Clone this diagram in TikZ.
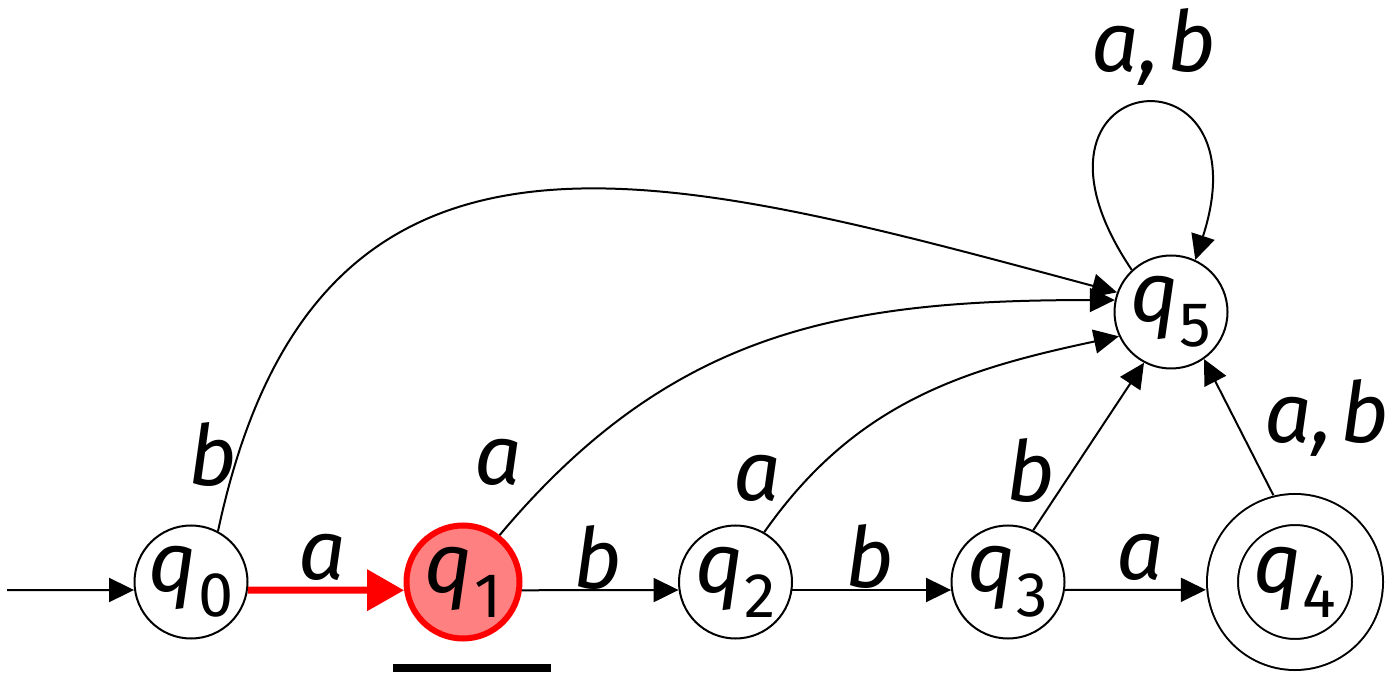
\documentclass[tikz,border=0pt]{standalone}
\usepackage{fontspec}
\setmainfont{Fira Sans}
\usetikzlibrary{arrows.meta}
\definecolor{hot}{HTML}{FF0000}
\definecolor{hotfill}{HTML}{FF8080}
\newcommand{\qst}[1]{\textit{q}\kern1pt\raisebox{-25pt}{\fontsize{63}{63}\selectfont #1}}

\begin{document}
\begin{tikzpicture}[x=1pt,y=1pt,font=\fontsize{84}{90}\selectfont,
     st/.style={circle,draw,line width=2,minimum size=113,inner sep=0},
     acc/.style={st,double,double distance=29,minimum size=145,outer sep=17},
     tr/.style={line width=2,-{Triangle[length=25,width=24]}},
     lbl/.style={font=\fontsize{84}{90}\selectfont\itshape,inner sep=0}]
    \useasboundingbox (0,0) rectangle (1397,675);
    \node[st](q0) at (191,93){\qst{0}};
    \node[st,draw=hot,fill=hotfill,line width=6](q1) at (463,93){\qst{1}};
    \node[st](q2) at (735.5,93){\qst{2}};
    \node[st](q3) at (1008,93){\qst{3}};
    \node[acc](q4) at (1295,93){\qst{4}};
    \node[st](q5) at (1171,363){\qst{5}};
    \coordinate (start) at (7,85);
    % straight run along the bottom
    \draw[tr] (start) -- (q0.188);
    \draw[hot,line width=7,-{Triangle[length=37,width=40]}] (q0.-8) -- (q1.188);
    \draw[tr] (q1.-8) -- (q2.188); \draw[tr] (q2.-8) -- (q3.188);
    \draw[tr] (q3.-8) -- (q4.185);
    % everything that goes up to q5
    \draw[tr] (q0.62) to[out=78,in=165,looseness=1.3] (q5.160);
    \draw[tr] (q1.52) to[out=50,in=180,looseness=1.05] (q5.168);
    \draw[tr] (q2.60) to[out=55,in=192] (q5.205);
    \draw[tr] (q3.64) -- (q5.-118);
    \draw[tr] (q4.104) -- (q5.-55);
    \draw[tr] (q5.133) .. controls +(124:245) and +(72:235) .. (q5.65);
    \node[lbl](l01) at (322,118){a}; \node[lbl](l12) at (598,117){b};
    \node[lbl](l23) at (870,118){b}; \node[lbl](l34) at (1140,118){a};
    \node[lbl](l05) at (213,220){b}; \node[lbl](l15) at (498,213){a};
    \node[lbl](l25) at (757,197){a}; \node[lbl](l35) at (1031,204){b};
    \node[lbl](l45) at (1327,257){a,\kern8pt b}; \node[lbl](l55) at (1154,628){a,\kern8pt b};
    \fill (393,3) rectangle (551,11);
  \end{tikzpicture}
\end{document}
